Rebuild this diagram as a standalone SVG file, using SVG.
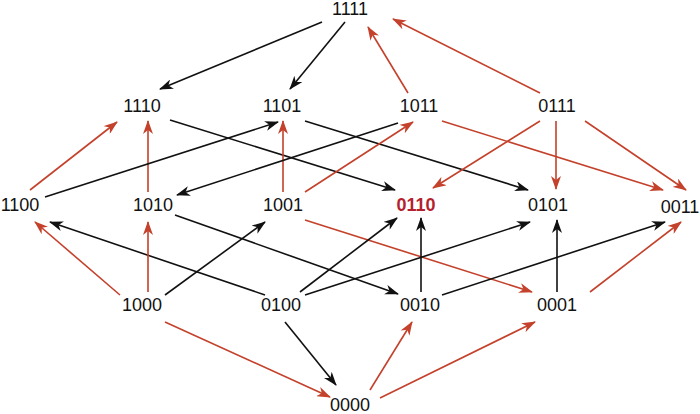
<svg xmlns="http://www.w3.org/2000/svg" width="700" height="414" viewBox="0 0 700 414">
<style>
.n text{font-family:"Liberation Sans",Arial,sans-serif;font-size:18px;fill:#111;text-anchor:middle}
.n text.hl{fill:#b51f2e;font-weight:bold}
.k{stroke:#111;stroke-width:1.6;fill:none;marker-end:url(#ak)}
.r{stroke:#c4412b;stroke-width:1.6;fill:none;marker-end:url(#ar)}
</style>
<defs>
<marker id="ak" viewBox="0 0 14 10" refX="13" refY="5" markerWidth="14" markerHeight="10" markerUnits="userSpaceOnUse" orient="auto"><path d="M0,0 L14,5 L0,10 L4,5 Z" fill="#111"/></marker>
<marker id="ar" viewBox="0 0 14 10" refX="13" refY="5" markerWidth="14" markerHeight="10" markerUnits="userSpaceOnUse" orient="auto"><path d="M0,0 L14,5 L0,10 L4,5 Z" fill="#c4412b"/></marker>
</defs>
<rect width="700" height="414" fill="#fff"/>
<g id="edges">
<line class="k" x1="322" y1="22" x2="160" y2="89"/>
<line class="k" x1="345" y1="22" x2="290" y2="89"/>
<line class="r" x1="408" y1="93" x2="368" y2="27"/>
<line class="r" x1="540" y1="93" x2="393" y2="19"/>
<line class="r" x1="30" y1="190" x2="117" y2="122"/>
<line class="r" x1="148" y1="192" x2="148" y2="121"/>
<line class="k" x1="170" y1="120" x2="395" y2="190"/>
<line class="k" x1="45" y1="197" x2="278" y2="122"/>
<line class="r" x1="283" y1="192" x2="283" y2="121"/>
<line class="k" x1="305" y1="121" x2="528" y2="190"/>
<line class="k" x1="398" y1="123" x2="177" y2="195"/>
<line class="r" x1="305" y1="192" x2="413" y2="122"/>
<line class="r" x1="442" y1="121" x2="663" y2="190"/>
<line class="r" x1="540" y1="121" x2="433" y2="188"/>
<line class="r" x1="556" y1="121" x2="556" y2="189"/>
<line class="r" x1="585" y1="121" x2="686" y2="190"/>
<line class="r" x1="120" y1="295" x2="35" y2="222"/>
<line class="k" x1="265" y1="295" x2="50" y2="222"/>
<line class="r" x1="148" y1="292" x2="148" y2="222"/>
<line class="k" x1="175" y1="215" x2="398" y2="294"/>
<line class="k" x1="165" y1="295" x2="265" y2="222"/>
<line class="r" x1="305" y1="220" x2="532" y2="292"/>
<line class="k" x1="300" y1="292" x2="397" y2="218"/>
<line class="k" x1="421" y1="292" x2="421" y2="218"/>
<line class="k" x1="305" y1="295" x2="530" y2="222"/>
<line class="k" x1="557" y1="292" x2="557" y2="220"/>
<line class="k" x1="442" y1="295" x2="665" y2="222"/>
<line class="r" x1="590" y1="292" x2="681" y2="222"/>
<line class="r" x1="165" y1="322" x2="330" y2="397"/>
<line class="k" x1="285" y1="322" x2="336" y2="385"/>
<line class="r" x1="370" y1="390" x2="412" y2="322"/>
<line class="r" x1="380" y1="398" x2="535" y2="322"/>
</g>
<g id="n1111" class="n"><text x="350" y="15">1111</text></g>
<g id="n1110" class="n"><text x="142" y="112">1110</text></g>
<g id="n1101" class="n"><text x="282" y="112">1101</text></g>
<g id="n1011" class="n"><text x="419" y="112">1011</text></g>
<g id="n0111" class="n"><text x="557" y="112">0111</text></g>
<g id="n1100" class="n"><text x="20" y="211">1100</text></g>
<g id="n1010" class="n"><text x="153" y="211">1010</text></g>
<g id="n1001" class="n"><text x="283" y="211">1001</text></g>
<g id="n0110" class="n"><text class="hl" x="416" y="211">0110</text></g>
<g id="n0101" class="n"><text x="548" y="211">0101</text></g>
<g id="n0011" class="n"><text x="680" y="213">0011</text></g>
<g id="n1000" class="n"><text x="142" y="311">1000</text></g>
<g id="n0100" class="n"><text x="281" y="311">0100</text></g>
<g id="n0010" class="n"><text x="420" y="311">0010</text></g>
<g id="n0001" class="n"><text x="557" y="311">0001</text></g>
<g id="n0000" class="n"><text x="350" y="411">0000</text></g>
</svg>
